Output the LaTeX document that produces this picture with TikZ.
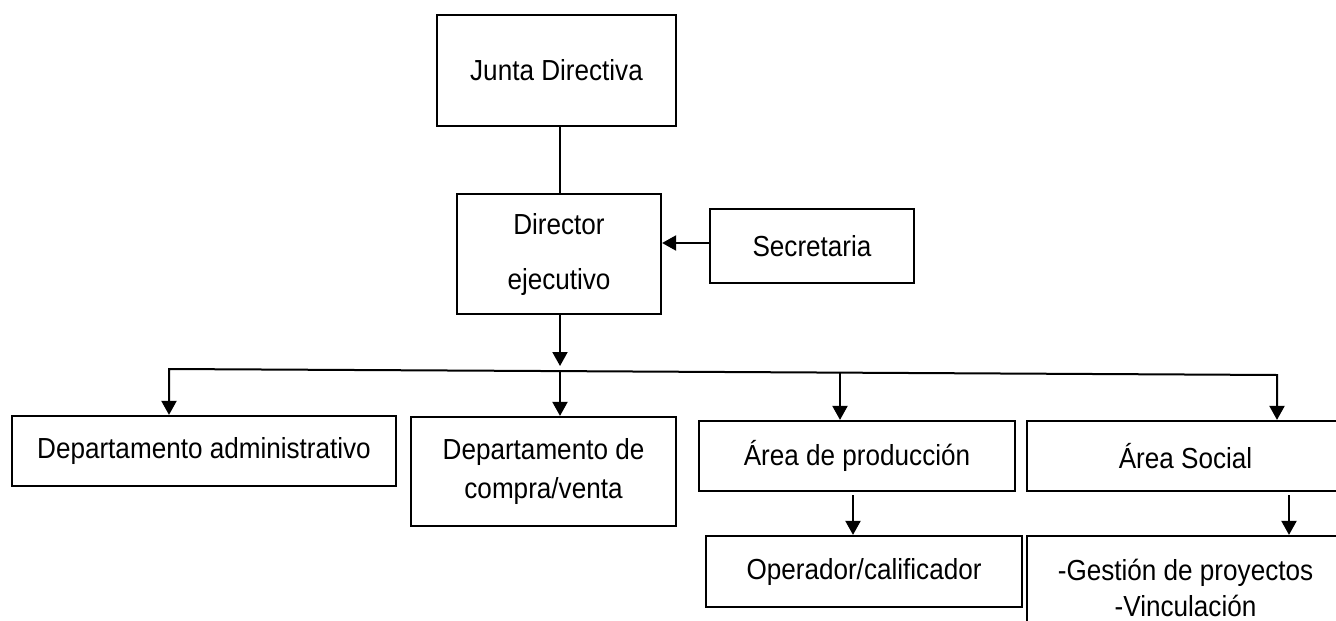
\documentclass[tikz,border=0pt]{standalone}
\usepackage{fontspec}
\setmainfont{Liberation Sans}[FakeStretch=0.9]
\usetikzlibrary{arrows.meta}
\begin{document}
\begin{tikzpicture}[x=1pt,y=-1pt,
  box/.style={draw, line width=2.2pt, inner sep=0pt, align=center, font=\fontsize{29}{38}\selectfont},
  conn/.style={line width=2pt},
  arr/.style={conn, -{Triangle[length=14pt,width=15pt]}}]
\useasboundingbox (0,0) rectangle (1336,621);
\clip (0,0) rectangle (1336,621);
\fill[white] (0,0) rectangle (1336,621);
% boxes
\node[box, minimum width=239pt, minimum height=111pt] (junta) at (556.5,70.5) {Junta Directiva};
\node[box, minimum width=204pt, minimum height=120pt, font=\fontsize{29}{55}\selectfont] (director) at (559,254) {Director\\ejecutivo};
\node[box, minimum width=204pt, minimum height=74pt] (secretaria) at (812,246) {Secretaria};
\node[box, minimum width=384pt, minimum height=70pt] (admin) at (204,451) {Departamento administrativo};
\node[box, minimum width=265pt, minimum height=109pt, font=\fontsize{29}{39}\selectfont] (compra) at (543.5,471.5) {Departamento de\\compra/venta};
\node[box, minimum width=316pt, minimum height=70pt] (produccion) at (857,456) {Área de producción};
\node[box, minimum width=317pt, minimum height=70pt] (social) at (1185.5,456) {Área Social};
\node[box, minimum width=316pt, minimum height=71pt] (operador) at (864,571.5) {Operador/calificador};
\node[box, minimum width=317pt, minimum height=104pt, font=\fontsize{29}{36}\selectfont] (gestion) at (1185.5,588) {-Gestión de proyectos\\-Vinculación};
% helper coordinates
\coordinate (vx) at (560,0);
\coordinate (sy) at (0,243);
\coordinate (dtip) at (560,366);
\coordinate (hl) at (169,369);
\coordinate (hr) at (1277,375);
\coordinate (j1) at (560,371.1);
\coordinate (j2) at (840,372.6);
\coordinate (p1) at (853,495);
\coordinate (s1) at (1289,495);
% connectors
\draw[conn] (junta.south -| vx) -- (director.north -| vx);
\draw[arr] (secretaria.west |- sy) -- (director.east |- sy);
\draw[arr] (director.south -| vx) -- (dtip);
\draw[arr] (j1) -- (hl) -- (admin.north -| hl);
\draw[arr] (j1) -- (hr) -- (social.north -| hr);
\draw[arr] (j1) -- (compra.north -| j1);
\draw[arr] (j2) -- (produccion.north -| j2);
\draw[arr] (p1) -- (operador.north -| p1);
\draw[arr] (s1) -- (gestion.north -| s1);
\end{tikzpicture}
\end{document}
